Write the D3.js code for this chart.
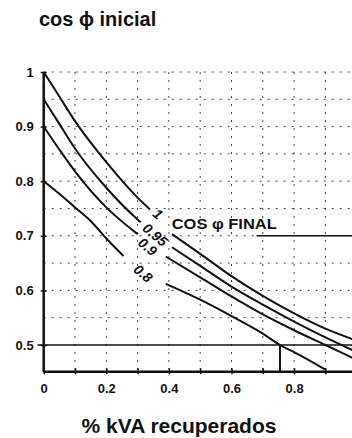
<!DOCTYPE html>
<html><head><meta charset="utf-8">
<script src="https://cdn.jsdelivr.net/npm/d3@7"></script>
<style>body{margin:0;background:#fff;overflow:hidden}</style>
</head><body>
<svg id="c" width="352" height="438"></svg>
<script>
// ---- data ----
const xTicks = [0,0.1,0.2,0.3,0.4,0.5,0.6,0.7,0.8,0.9];
const xTickLabels = ["0","","0.2","","0.4","","0.6","","0.8",""];
const yTicks = [0.5,0.6,0.7,0.8,0.9,1];
const yTickLabels = ["0.5","0.6","0.7","0.8","0.9","1"];
const gridX = [0.1,0.2,0.3,0.4,0.5,0.6,0.7,0.8,0.9];
const gridY = [0.55,0.6,0.65,0.7,0.75,0.8,0.85,0.9,0.95,1.0];
const curveNames = ["1","0.95","0.9","0.8"];
const curveX1   = [0,0.05,0.1,0.2,0.3,0.34,null,0.41,0.5,0.6,0.7,0.8,0.9,1.0];
const curveY1   = [1.0,0.955,0.91,0.835,0.77,0.748,null,0.703,0.667,0.626,0.59,0.558,0.53,0.508];
const curveX095 = [0,0.05,0.1,0.2,0.3,0.31,null,0.41,0.5,0.6,0.7,0.8,0.9,1.0];
const curveY095 = [0.95,0.905,0.86,0.788,0.73,0.725,null,0.679,0.645,0.607,0.574,0.543,0.514,0.487];
const curveX09  = [0,0.05,0.1,0.2,0.3,null,0.39,0.5,0.6,0.7,0.8,0.9,1.0];
const curveY09  = [0.9,0.858,0.818,0.752,0.703,null,0.662,0.624,0.589,0.556,0.527,0.5,0.473];
const curveX08  = [0,0.05,0.1,0.15,0.2,0.255,null,0.39,0.5,0.6,0.7,0.755,0.8,0.9];
const curveY08  = [0.8,0.777,0.752,0.727,0.695,0.663,null,0.612,0.583,0.553,0.521,0.5,0.487,0.455];
const labelX = [0.365,0.356,0.332,0.318];
const labelY = [0.74,0.702,0.68,0.631];
const exampleX = 0.755;   // example reading: cos φ inicial 0.5 -> %kVA
const exampleY = 0.5;

// ---- layout ----
const svg = d3.select("#c");
const x = d3.scaleLinear().domain([0,1]).range([43.7,356.7]);
const y = d3.scaleLinear().domain([0.5,1]).range([345,72]);
const yBottom = 0.452;
const ink = "#111";
const font = "Liberation Sans, Arial, sans-serif";

// grid
const grid = svg.append("g").attr("stroke","#444").attr("stroke-width",1).attr("stroke-dasharray","2,6").attr("fill","none");
grid.selectAll("line.gx").data(gridX).join("line")
  .attr("x1",d=>x(d)).attr("x2",d=>x(d)).attr("y1",y(1)).attr("y2",y(yBottom));
grid.selectAll("line.gy").data(gridY).join("line")
  .attr("x1",x(0)).attr("x2",x(1)).attr("y1",d=>y(d)).attr("y2",d=>y(d));

// reference solid lines
svg.append("line").attr("x1",x(-0.02)).attr("x2",x(1)).attr("y1",y(exampleY)).attr("y2",y(exampleY))
  .attr("stroke",ink).attr("stroke-width",1.6);
svg.append("line").attr("x1",x(exampleX)).attr("x2",x(exampleX)).attr("y1",y(exampleY)).attr("y2",y(yBottom))
  .attr("stroke",ink).attr("stroke-width",2);
svg.append("line").attr("x1",x(0.68)).attr("x2",x(1)).attr("y1",y(0.7)).attr("y2",y(0.7))
  .attr("stroke",ink).attr("stroke-width",1.4);

// axes
const gy = svg.append("g").attr("transform",`translate(${x(0)},0)`)
  .call(d3.axisLeft(y).tickValues(yTicks).tickFormat((d,i)=>yTickLabels[i]).tickSize(3).tickSizeOuter(0).tickPadding(7));
gy.select(".domain").remove();
gy.selectAll(".tick line").attr("x1",-3).attr("x2",3).attr("stroke",ink).attr("stroke-width",1.5);
gy.selectAll(".tick text").attr("font-family",font).attr("font-weight","bold").attr("font-size",13).attr("fill",ink);

const gx = svg.append("g").attr("transform",`translate(0,${y(yBottom)})`)
  .call(d3.axisBottom(x).tickValues(xTicks).tickFormat((d,i)=>xTickLabels[i]).tickSize(3).tickSizeOuter(0).tickPadding(10));
gx.select(".domain").attr("stroke",ink).attr("stroke-width",2.5);
gx.selectAll(".tick line").attr("y1",-3).attr("y2",3).attr("stroke",ink).attr("stroke-width",1.5);
gx.selectAll(".tick text").attr("font-family",font).attr("font-weight","bold").attr("font-size",13).attr("fill",ink);

svg.append("line").attr("x1",x(0)).attr("x2",x(0)).attr("y1",y(1)).attr("y2",y(yBottom)+1)
  .attr("stroke",ink).attr("stroke-width",2.5);

// curves
const curves = [[curveX1,curveY1],[curveX095,curveY095],[curveX09,curveY09],[curveX08,curveY08]];
const line = d3.line().defined(d=>d[1]!==null).x(d=>x(d[0])).y(d=>y(d[1])).curve(d3.curveMonotoneX);
curves.forEach(([xs,ys])=>{
  const pts = xs.map((v,i)=>[v,ys[i]]);
  svg.append("path").attr("d",line(pts)).attr("fill","none").attr("stroke",ink).attr("stroke-width",2);
});

// curve labels
svg.selectAll("text.cl").data(curveNames).join("text")
  .attr("transform",(d,i)=>`translate(${x(labelX[i])},${y(labelY[i])}) rotate(40)`)
  .attr("text-anchor","middle").attr("dy","0.35em")
  .attr("font-family",font).attr("font-weight","bold").attr("font-style","italic")
  .attr("font-size",14).attr("fill",ink).text(d=>d);

svg.append("text").attr("x",x(0.409)).attr("y",y(0.712))
  .attr("font-family",font).attr("font-weight","bold").attr("font-size",14)
  .attr("textLength",105).attr("lengthAdjust","spacingAndGlyphs").attr("fill",ink).text("COS φ FINAL");

// titles
svg.append("text").attr("x",39).attr("y",26)
  .attr("font-family",font).attr("font-weight","bold").attr("font-size",20).attr("fill",ink)
  .text("cos ϕ inicial");
svg.append("text").attr("x",179).attr("y",433).attr("text-anchor","middle")
  .attr("font-family",font).attr("font-weight","bold").attr("font-size",21).attr("fill",ink)
  .text("% kVA recuperados");
</script>
</body></html>
